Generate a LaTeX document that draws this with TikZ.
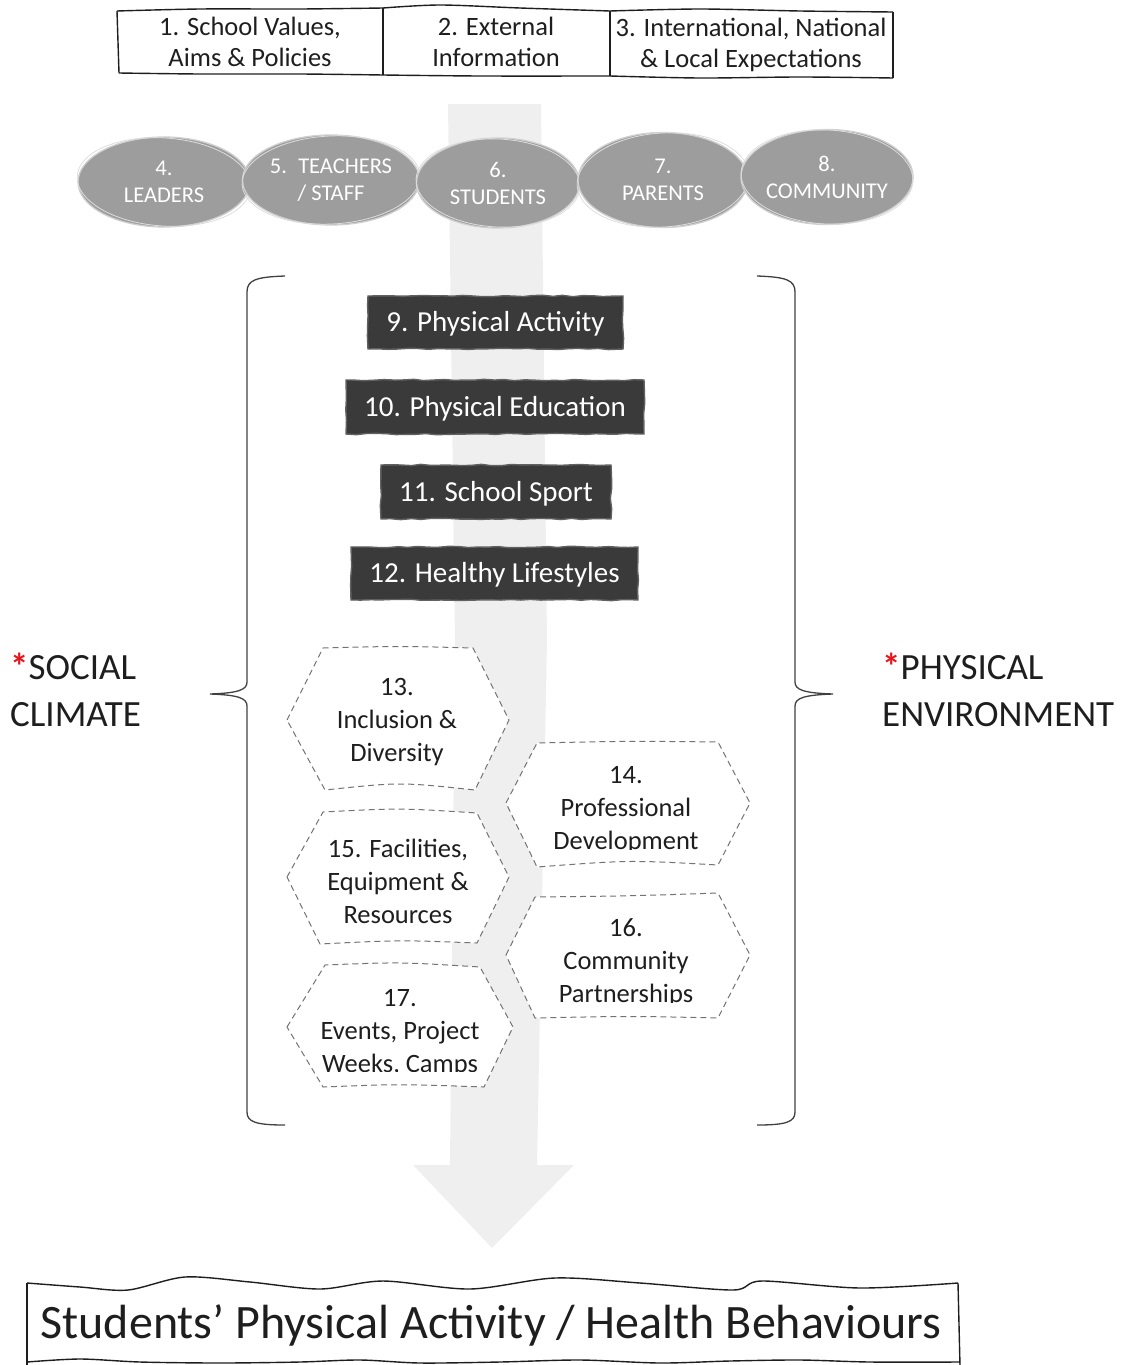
\documentclass[tikz,border=0pt]{standalone}
\usepackage{fontspec}
\setmainfont{Carlito}
\usetikzlibrary{shapes.geometric,decorations.pathmorphing}
\definecolor{ellgray}{HTML}{9D9D9D}
\definecolor{ellline}{HTML}{CFCFCF}
\definecolor{darkfill}{HTML}{3A3A3A}
\definecolor{arrowgray}{HTML}{EFEFEF}
\definecolor{inkc}{HTML}{1E1E1E}
\definecolor{starred}{HTML}{E8141B}
\begin{document}
\pgfmathsetseed{7}
\begin{tikzpicture}[x=1pt,y=-1pt,
  sketchline/.style={draw=inkc, line width=1.4pt, line join=round},
  toptext/.style={font=\fontsize{26.5}{31}\selectfont, text=inkc, align=center, inner sep=0pt},
  ellnode/.style={ellipse, fill=ellgray, draw=ellline, line width=1.3pt, inner sep=0pt,
     font=\fontsize{22.5}{27}\selectfont, text=white, align=center},
  ellrim/.style={draw=ellline!70!white, line width=0.8pt},
  darkbox/.style={fill=darkfill, draw=darkfill!80!white, line width=1.4pt, inner sep=0pt,
     decorate, decoration={random steps, segment length=10pt, amplitude=0.7pt},
     font=\fontsize{29}{32}\selectfont, text=white, text height=21pt, text depth=3pt},
  hexa/.style={draw=black!55, dash pattern=on 6pt off 4pt, line width=1pt, fill=white, line join=round},
  hextext/.style={font=\fontsize{26.5}{33}\selectfont, align=center, text=inkc, inner sep=0pt},
  brace/.style={draw=black!75, line width=1.3pt},
  sidelabel/.style={font=\fontsize{37}{47}\selectfont, anchor=west, text=inkc, inner sep=0pt, align=left},
  bigtext/.style={font=\fontsize{48}{54}\selectfont, text=inkc, inner sep=0pt}
]
\useasboundingbox (0,0) rectangle (1130,1365);

% ---------- big background arrow ----------
\fill[arrowgray] (448,104) -- (541,104) -- (547,640) -- (537,1165) -- (574,1165)
   -- (492,1248) -- (413,1165) -- (450,1165) -- (455,640) -- cycle;

% ---------- top boxes ----------
\draw[sketchline] plot[smooth] coordinates {(117,11) (200,9) (300,9) (383,8)};
\draw[sketchline] plot[smooth] coordinates {(383,8) (440,5) (520,8) (610,11)};
\draw[sketchline] plot[smooth] coordinates {(610,11) (700,9) (800,11) (893,12)};
\draw[sketchline] plot[smooth] coordinates {(119,73) (200,74) (300,74) (383,75)};
\draw[sketchline] plot[smooth] coordinates {(383,75) (480,76) (610,76)};
\draw[sketchline] plot[smooth] coordinates {(610,76) (700,78) (800,77) (893,78)};
\draw[sketchline] (117,11) -- (119,73);
\draw[sketchline] (383,8) -- (383,75);
\draw[sketchline] (610,11) -- (610,76);
\draw[sketchline] (893,12) -- (893,78);
\node[toptext] (t1) at (250,42) {1. School Values,\\Aims \& Policies};
\node[toptext] (t2) at (496,42) {2. External\\Information};
\node[toptext] (t3) at (751,45) {3. International, National\\\& Local Expectations};

% ---------- ellipses ----------
\node[ellnode, minimum width=172pt, minimum height=90pt] (e4) at (164,182) {4.\\LEADERS};
\draw[ellrim, rotate around={-4:(e4.center)}] (e4.center) ellipse [x radius=87pt, y radius=44pt];
\node[ellnode, minimum width=177pt, minimum height=90pt] (e5) at (331,180) {5.\enspace TEACHERS\\/ STAFF};
\draw[ellrim, rotate around={3:(e5.center)}] (e5.center) ellipse [x radius=89pt, y radius=44pt];
\node[ellnode, minimum width=163pt, minimum height=90pt] (e6) at (498,183) {6.\\STUDENTS};
\draw[ellrim, rotate around={-3:(e6.center)}] (e6.center) ellipse [x radius=82pt, y radius=44pt];
\node[ellnode, minimum width=170pt, minimum height=95pt] (e7) at (663,180) {7.\\PARENTS};
\draw[ellrim, rotate around={4:(e7.center)}] (e7.center) ellipse [x radius=86pt, y radius=47pt];
\node[ellnode, minimum width=171pt, minimum height=95pt] (e8) at (827,177) {8.\\COMMUNITY};
\draw[ellrim, rotate around={-3:(e8.center)}] (e8.center) ellipse [x radius=86pt, y radius=47pt];

% ---------- dark boxes ----------
\node[darkbox, minimum width=255pt, minimum height=53pt] (b9) at (495.5,322.5) {9. Physical Activity};
\node[darkbox, minimum width=298pt, minimum height=54pt] (b10) at (495,407) {10. Physical Education};
\node[darkbox, minimum width=230pt, minimum height=54pt] (b11) at (496,492) {11. School Sport};
\node[darkbox, minimum width=287pt, minimum height=53pt] (b12) at (494.5,573.5) {12. Healthy Lifestyles};

% ---------- braces ----------
\draw[brace] (285,276) .. controls (256,277) and (247,280) .. (247,292) -- (247,682)
   .. controls (247,690) and (238,693) .. (210,694)
   .. controls (238,695) and (247,698) .. (247,706) -- (247,1112)
   .. controls (247,1122) and (256,1125) .. (285,1125);
\draw[brace] (757,276) .. controls (786,277) and (795,280) .. (795,292) -- (795,682)
   .. controls (795,690) and (804,693) .. (833,694)
   .. controls (804,695) and (795,698) .. (795,706) -- (795,1112)
   .. controls (795,1122) and (786,1125) .. (757,1125);

% ---------- side labels ----------
\node[sidelabel] (soc) at (10,690) {\textcolor{starred}{\bfseries *}SOCIAL\\CLIMATE};
\node[sidelabel] (phy) at (882,690) {\textcolor{starred}{\bfseries *}PHYSICAL\\ENVIRONMENT};

% ---------- hexagons ----------
\draw[hexa] (287,720) -- (323,648) .. controls (400,646) .. (473,648) -- (509,720) -- (475,790)
   .. controls (400,782) .. (325,790) -- cycle;
\node[hextext] (h13) at (397,722) {13.\\Inclusion \&\\Diversity};

\draw[hexa] (506,803) -- (537,743) .. controls (630,741) .. (718,742) -- (750,803) -- (718,865)
   .. controls (630,860) .. (537,867) -- cycle;
\begin{scope}
\clip (500,730) rectangle (760,849);
\node[hextext] (h14) at (626,810) {14.\\Professional\\Development};
\end{scope}

\draw[hexa] (287,877) -- (323,812) .. controls (400,808) .. (477,813) -- (509,877) -- (477,943)
   .. controls (400,940) .. (320,944) -- cycle;
\node[hextext] (h15) at (398,881) {15. Facilities,\\Equipment \&\\Resources};

\draw[hexa] (506,955) -- (535,897) .. controls (630,896) .. (718,893) -- (750,955) -- (718,1018)
   .. controls (630,1016) .. (535,1018) -- cycle;
\begin{scope}
\clip (500,885) rectangle (760,1002);
\node[hextext] (h16) at (626,963) {16.\\Community\\Partnerships};
\end{scope}

\draw[hexa] (287,1027) -- (325,965) .. controls (400,962) .. (480,967) -- (513,1027) -- (484,1087)
   .. controls (400,1084) .. (323,1087) -- cycle;
\begin{scope}
\clip (280,955) rectangle (520,1071);
\node[hextext] (h17) at (400,1033) {17.\\Events, Project\\Weeks, Camps};
\end{scope}

% ---------- bottom box ----------
\draw[sketchline] plot[smooth] coordinates {(27,1283) (80,1287) (128,1290) (185,1277) (250,1282)
   (320,1289) (383,1281) (470,1289) (555,1278) (640,1283) (733,1290) (762,1281) (860,1288) (958,1283)};
\draw[sketchline] (27,1283) -- (27,1366);
\draw[sketchline] (958,1283) -- (960,1366);
\draw[sketchline] plot[smooth] coordinates {(27,1362) (80,1359) (140,1362) (220,1363) (300,1362)
   (360,1360) (420,1363) (500,1362) (580,1360) (660,1363) (730,1361) (800,1360) (870,1362) (960,1362)};
\node[bigtext, anchor=base] (out) at (491,1338) {Students’ Physical Activity / Health Behaviours};
\end{tikzpicture}
\end{document}
